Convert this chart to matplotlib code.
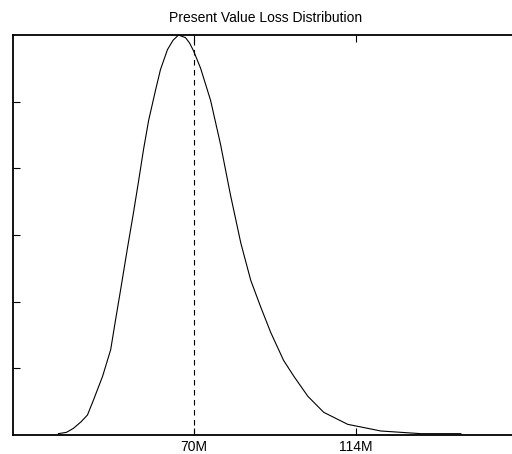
import matplotlib.pyplot as plt

# Loss values (millions) and relative density
loss_m = [33.3, 35.5, 37.4, 39.5, 41.2, 42.8, 45.3, 47.5, 48.8, 50.2, 52.1, 53.7,
          55.1, 56.4, 57.8, 59.7, 61.0, 62.9, 64.4, 65.9, 67.8, 68.9, 70.0, 71.9,
          74.6, 77.3, 80.0, 82.8, 85.5, 88.2, 90.9, 94.4, 97.2, 101.0, 105.3,
          111.8, 120.8, 131.7, 142.5]
density = [0.0001, 0.0002, 0.0005, 0.0010, 0.0015, 0.0026, 0.0044, 0.0064, 0.0086,
           0.0109, 0.0141, 0.0167, 0.0191, 0.0214, 0.0236, 0.0259, 0.0274, 0.0289,
           0.0296, 0.0300, 0.0298, 0.0294, 0.0288, 0.0275, 0.0251, 0.0218, 0.0180,
           0.0144, 0.0116, 0.0096, 0.0077, 0.0056, 0.0044, 0.0029, 0.0017, 0.0008,
           0.0003, 0.0001, 0.0001]
mean_loss = 70.0

x_ticks = [70, 114]
x_tick_labels = ['70M', '114M']
y_ticks = [0.005, 0.010, 0.015, 0.020, 0.025]

fig = plt.figure(figsize=(5.12, 4.54), dpi=100)
ax = fig.add_axes([13 / 512, 19 / 454, 505 / 512, 400 / 454])

ax.plot(loss_m, density, color='black', linewidth=0.8)
ax.axvline(mean_loss, color='black', linewidth=0.8, linestyle=(0, (5, 4)))

ax.set_xlim(21, 158)
ax.set_ylim(0, 0.030)
ax.set_xticks(x_ticks)
ax.set_xticklabels(x_tick_labels, fontfamily='Liberation Sans', fontsize=10)
ax.set_yticks(y_ticks)
ax.set_yticklabels([])
ax.tick_params(direction='in', length=5, width=0.8, top=True, right=False, pad=3.5)
for s in ax.spines.values():
    s.set_linewidth(1.3)
# the right edge of the box lies past the cropped picture
ax.spines['right'].set_visible(False)

ax.set_title('Present Value Loss Distribution', fontfamily='Liberation Sans',
             fontsize=10, pad=9)

fig.savefig('out.png', dpi=100)
